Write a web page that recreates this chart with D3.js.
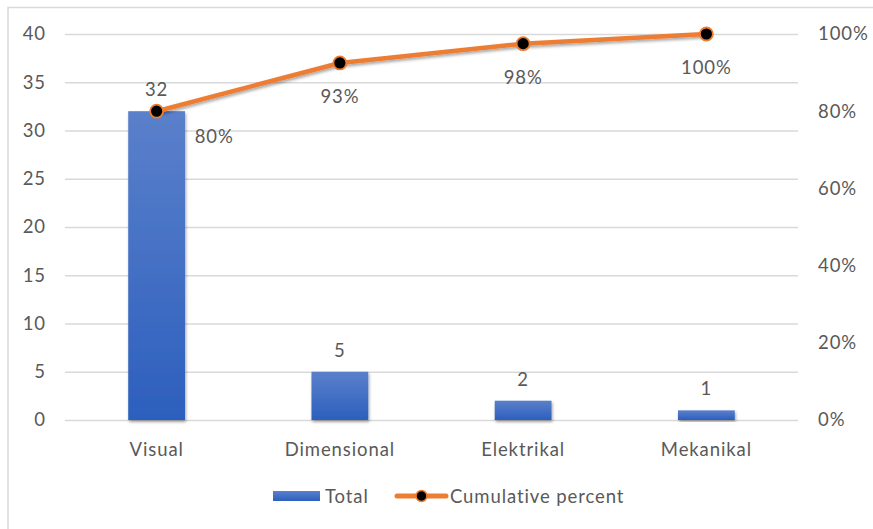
<!DOCTYPE html>
<html><head><meta charset="utf-8">
<script src="https://cdn.jsdelivr.net/npm/d3@7"></script>
<style>body{margin:0;background:#fff}svg{display:block}</style>
</head><body><svg id="c" width="873" height="529"></svg>
<script>
const categories = ["Visual","Dimensional","Elektrikal","Mekanikal"];
const totals = [32,5,2,1];
const cumulative = [80,92.5,97.5,100];
const cumLabels = ["80%","93%","98%","100%"];
const leftTicks = [0,5,10,15,20,25,30,35,40];
const rightTicks = [0,20,40,60,80,100];

const svg = d3.select("#c");
const font = "Lato, 'Open Sans', sans-serif";
const fs = 18.5, ls = 0.9;
const textCol = "#595959";
const m = {l:65, r:798, t:34, b:420};
function styleText(sel){ sel.attr("font-family",font).attr("font-size",fs).attr("letter-spacing",ls).attr("fill",textCol); }

const defs = svg.append("defs");
const g1 = defs.append("linearGradient").attr("id","bg").attr("x1",0).attr("y1",0).attr("x2",0).attr("y2",1);
g1.append("stop").attr("offset","0%").attr("stop-color","#5b80cb");
g1.append("stop").attr("offset","100%").attr("stop-color","#2c5fbd");
const f = defs.append("filter").attr("id","sh").attr("x","-20%").attr("y","-20%").attr("width","140%").attr("height","140%");
f.append("feDropShadow").attr("dx",1).attr("dy",2).attr("stdDeviation",1.6).attr("flood-color","#000").attr("flood-opacity",0.35);

svg.append("rect").attr("x",8).attr("y",7.5).attr("width",900).attr("height",600)
  .attr("fill","#fff").attr("stroke","#d9d9d9").attr("stroke-width",1.5);

const x = d3.scaleBand().domain(categories).range([m.l,m.r]).paddingInner(0.69).paddingOuter(0.345);
const y = d3.scaleLinear().domain([0,40]).range([m.b,m.t]);
const y2 = d3.scaleLinear().domain([0,100]).range([m.b,m.t]);

svg.append("g").selectAll("line").data(leftTicks).join("line")
  .attr("x1",m.l).attr("x2",m.r).attr("y1",d=>y(d)+0.5).attr("y2",d=>y(d)+0.5)
  .attr("stroke","#d9d9d9").attr("stroke-width",1.5);

const ax = svg.append("g").attr("transform",`translate(${m.l},0)`)
  .call(d3.axisLeft(y).tickValues(leftTicks).tickSize(0).tickPadding(19));
ax.select(".domain").remove();
ax.selectAll("text").call(styleText);

const ax2 = svg.append("g").attr("transform",`translate(${m.r},0)`)
  .call(d3.axisRight(y2).tickValues(rightTicks).tickSize(0).tickPadding(20).tickFormat(d=>d+"%"));
ax2.select(".domain").remove();
ax2.selectAll("text").call(styleText);

const ax3 = svg.append("g").attr("transform",`translate(0,${m.b})`)
  .call(d3.axisBottom(x).tickSize(0).tickPadding(23));
ax3.select(".domain").remove();
ax3.selectAll("text").call(styleText);

svg.append("g").selectAll("rect").data(totals).join("rect")
  .attr("x",(d,i)=>x(categories[i])).attr("width",x.bandwidth())
  .attr("y",d=>y(d)).attr("height",d=>y(0)-y(d))
  .attr("fill","url(#bg)").attr("filter","url(#sh)");

svg.append("g").selectAll("text").data(totals).join("text")
  .attr("x",(d,i)=>x(categories[i])+x.bandwidth()/2).attr("y",d=>y(d)-15)
  .attr("text-anchor","middle").call(styleText)
  .text(d=>d);

const cx = (i)=>x(categories[i])+x.bandwidth()/2;
const line = d3.line().x((d,i)=>cx(i)).y(d=>y2(d));
svg.append("path").datum(cumulative).attr("d",line).attr("fill","none")
  .attr("stroke","#ed7d31").attr("stroke-width",4.5).attr("stroke-linejoin","round").attr("stroke-linecap","round")
  .attr("filter","url(#sh)");
svg.append("g").selectAll("circle").data(cumulative).join("circle")
  .attr("cx",(d,i)=>cx(i)).attr("cy",d=>y2(d)).attr("r",6.5)
  .attr("fill","#000").attr("stroke","#ed7d31").attr("stroke-width",1.8);

svg.append("g").selectAll("text").data(cumulative).join("text")
  .attr("x",(d,i)=> i===0 ? cx(i)+38 : cx(i))
  .attr("y",(d,i)=> i===0 ? y2(d)+32 : y2(d)+40)
  .attr("text-anchor",(d,i)=> i===0 ? "start":"middle")
  .call(styleText)
  .text((d,i)=>cumLabels[i]);

const lg = svg.append("g");
lg.append("rect").attr("x",273).attr("y",491).attr("width",47).attr("height",10).attr("fill","url(#bg)");
lg.append("text").attr("x",325).attr("y",503).call(styleText).text("Total");
lg.append("line").attr("x1",397).attr("x2",446).attr("y1",496).attr("y2",496)
  .attr("stroke","#ed7d31").attr("stroke-width",5).attr("stroke-linecap","round");
lg.append("circle").attr("cx",421.5).attr("cy",496).attr("r",5.5).attr("fill","#000").attr("stroke","#ed7d31").attr("stroke-width",1.5);
lg.append("text").attr("x",450).attr("y",503).call(styleText).text("Cumulative percent");
</script></body></html>
